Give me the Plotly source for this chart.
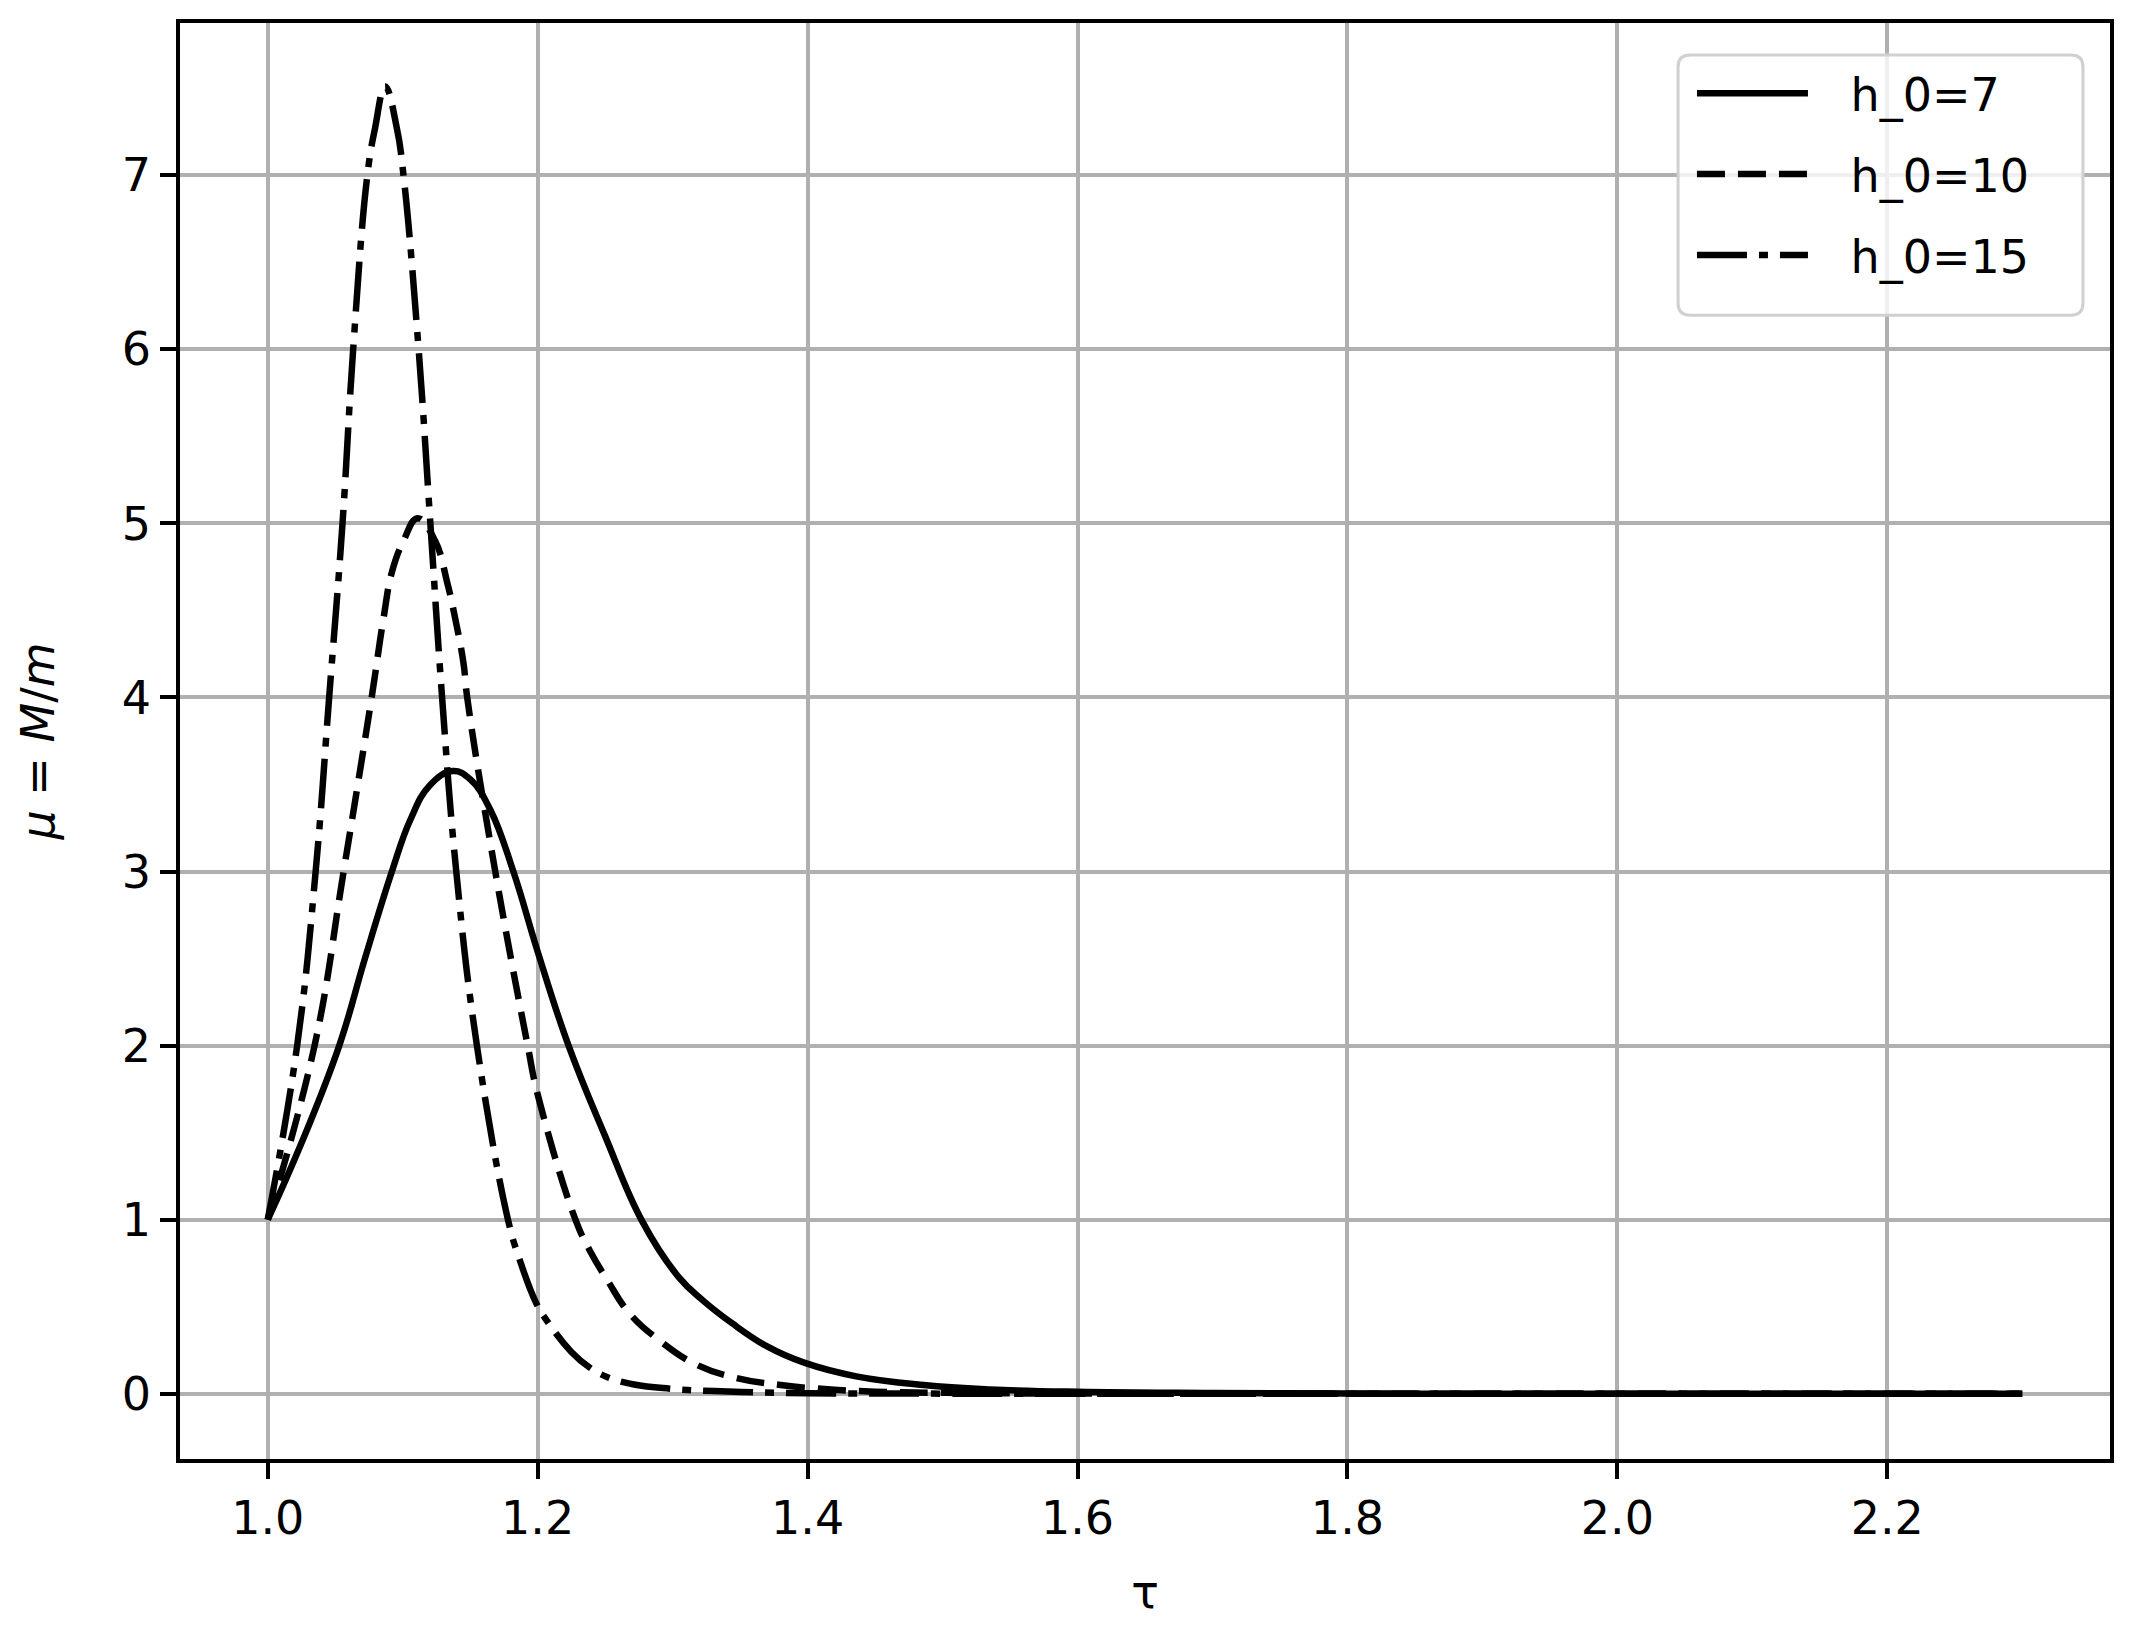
import plotly.graph_objects as go

# readings of mu = M/m against tau, one list pair per h_0
tau_h7 = [1.0, 1.025, 1.053, 1.072, 1.092, 1.1056, 1.12, 1.137, 1.15, 1.165, 1.182,
          1.2, 1.2229, 1.25, 1.2775, 1.3045, 1.3226, 1.344, 1.37, 1.398, 1.436,
          1.486, 1.535, 1.6, 1.7, 1.8, 1.9, 2.0, 2.1, 2.2, 2.3]
mu_h7 = [1.0, 1.44, 2.0, 2.5, 3.0, 3.296, 3.495, 3.577, 3.53, 3.354, 3.0,
         2.54, 2.0, 1.48, 0.99, 0.67, 0.535, 0.405, 0.272, 0.177, 0.1,
         0.05, 0.025, 0.011, 0.004, 0.001, 0.0, 0.0, 0.0, 0.0, 0.0]

tau_h10 = [1.0, 1.0347, 1.0562, 1.077, 1.0857, 1.092, 1.1006, 1.111, 1.124, 1.133,
           1.139, 1.145, 1.1478, 1.1686, 1.1926, 1.2, 1.228, 1.2386, 1.2517, 1.268,
           1.2896, 1.3176, 1.347, 1.38, 1.41, 1.45, 1.5, 1.6, 1.7, 1.8, 1.9, 2.0,
           2.1, 2.2, 2.3]
mu_h10 = [1.0, 2.0, 3.0, 4.0, 4.45, 4.72, 4.9, 5.03, 4.9, 4.66,
          4.45, 4.2, 4.0, 3.0, 2.0, 1.72, 1.0, 0.823, 0.652, 0.462,
          0.31, 0.167, 0.091, 0.05, 0.028, 0.012, 0.005, 0.001, 0.0, 0.0, 0.0, 0.0,
          0.0, 0.0, 0.0]

tau_h15 = [1.0, 1.0218, 1.0355, 1.0455, 1.0554, 1.0633, 1.0738, 1.0795, 1.087, 1.0957,
           1.1006, 1.1118, 1.1205, 1.1292, 1.1397, 1.155, 1.178, 1.186, 1.199, 1.2056,
           1.225, 1.2386, 1.2517, 1.2715, 1.298, 1.331, 1.4, 1.5, 1.6, 1.7, 1.8, 1.9,
           2.0, 2.1, 2.2, 2.3]
mu_h15 = [1.0, 2.0, 3.0, 4.0, 5.0, 6.0, 7.0, 7.27, 7.51, 7.27,
          7.0, 6.0, 5.0, 4.0, 3.0, 2.0, 1.0, 0.785, 0.519, 0.433,
          0.24, 0.15, 0.095, 0.053, 0.029, 0.015, 0.003, 0.0005, 0.0, 0.0, 0.0, 0.0,
          0.0, 0.0, 0.0, 0.0]

labels = ["h_0=7", "h_0=10", "h_0=15"]
x_ticks = [1.0, 1.2, 1.4, 1.6, 1.8, 2.0, 2.2]
y_ticks = [0, 1, 2, 3, 4, 5, 6, 7]

FONT = "DejaVu Sans, Liberation Sans, sans-serif"
dashes = ["solid", "28px,13px", "50px,12px,9px,12px"]

fig = go.Figure()
for i, (x, y) in enumerate([(tau_h7, mu_h7), (tau_h10, mu_h10), (tau_h15, mu_h15)]):
    fig.add_trace(
        go.Scatter(
            x=x,
            y=y,
            mode="lines",
            name="\u2002\u00a0" + labels[i],
            legendgroup=labels[i],
            line=dict(color="black", width=6.5, dash=dashes[i], shape="spline", smoothing=1.2),
        )
    )

# legend frame (matplotlib style: rounded, light grey edge, translucent white)
bx0, bx1, by0, by1 = 0.7762, 0.986, 0.7965, 0.9778
rx, ry = 12 / 1930, 12 / 1440
frame = (
    f"M{bx0 + rx},{by1} L{bx1 - rx},{by1} Q{bx1},{by1} {bx1},{by1 - ry} "
    f"L{bx1},{by0 + ry} Q{bx1},{by0} {bx1 - rx},{by0} "
    f"L{bx0 + rx},{by0} Q{bx0},{by0} {bx0},{by0 + ry} "
    f"L{bx0},{by1 - ry} Q{bx0},{by1} {bx0 + rx},{by1} Z"
)
fig.add_shape(
    type="path",
    path=frame,
    xref="paper",
    yref="paper",
    fillcolor="rgba(255,255,255,0.8)",
    line=dict(color="#d0d0d0", width=3),
    layer="above",
)

axis_common = dict(
    showgrid=True,
    gridcolor="#b0b0b0",
    gridwidth=3.5,
    zeroline=False,
    showline=True,
    linecolor="black",
    linewidth=3.5,
    mirror=True,
    ticks="outside",
    ticklen=16,
    tickwidth=3.5,
    tickcolor="black",
    tickfont=dict(size=46, color="black", family=FONT),
)

fig.update_layout(
    width=2133,
    height=1634,
    paper_bgcolor="white",
    plot_bgcolor="white",
    font=dict(family=FONT, size=46, color="black"),
    margin=dict(l=172, r=31, t=11, b=183),
    xaxis=dict(
        axis_common,
        range=[0.935, 2.365],
        tickvals=x_ticks,
        ticktext=[f"{v:.1f}" for v in x_ticks],
        title=dict(text="τ", font=dict(size=46), standoff=33),
    ),
    yaxis=dict(
        axis_common,
        range=[-0.375, 7.875],
        tickvals=y_ticks,
        title=dict(text="<i>μ</i> = <i>M</i>/<i>m</i>", font=dict(size=46), standoff=54),
    ),
    legend=dict(
        x=0.7834,
        y=0.9764,
        xanchor="left",
        yanchor="top",
        bgcolor="rgba(0,0,0,0)",
        borderwidth=0,
        font=dict(size=46, family=FONT),
        itemwidth=111,
        tracegroupgap=18,
    ),
    showlegend=True,
)

fig.write_html("out.html")
